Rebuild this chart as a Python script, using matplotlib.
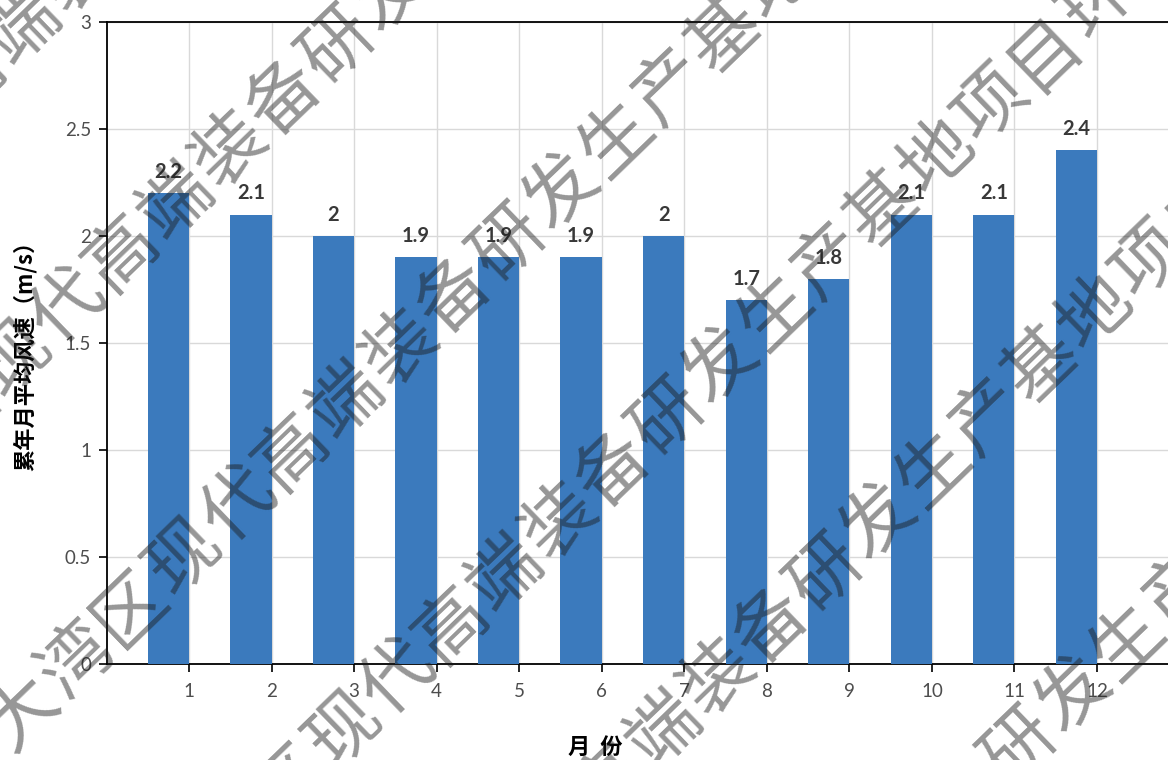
import numpy as np
import matplotlib
matplotlib.use("Agg")
import matplotlib.pyplot as plt

# monthly mean wind speed
months = np.arange(1, 13)
month_labels = [str(m) for m in months]
wind_speed = [2.2, 2.1, 2, 1.9, 1.9, 1.9, 2, 1.7, 1.8, 2.1, 2.1, 2.4]
value_labels = ["2.2", "2.1", "2", "1.9", "1.9", "1.9", "2", "1.7", "1.8", "2.1", "2.1", "2.4"]
y_ticks = [0, 0.5, 1, 1.5, 2, 2.5, 3]
y_tick_labels = ["0", "0.5", "1", "1.5", "2", "2.5", "3"]

watermark = "大湾区现代高端装备研发生产基地项目环"

W, H = 1168, 760
fig = plt.figure(figsize=(W / 100, H / 100), dpi=100)
fig.patch.set_facecolor("white")

# axes placed in pixels, runs a bit past the right edge like the original
ax = fig.add_axes([106.5 / W, (H - 664) / H, 1073 / W, 642 / H])

ax.bar(months - 0.25, wind_speed, width=0.5, color="#3b7abd", zorder=3)

for m, v, lab in zip(months, wind_speed, value_labels):
    ax.annotate(lab, (m - 0.25, v), xytext=(0, 8), textcoords="offset points",
                ha="center", va="bottom", fontsize=14.5, fontweight="bold",
                color="#383838", family=["Lato", "DejaVu Sans"], zorder=4)

ax.set_xlim(0, 13)
ax.set_ylim(0, 3)
ax.set_xticks(months)
ax.set_xticklabels(month_labels)
ax.set_yticks(y_ticks)
ax.set_yticklabels(y_tick_labels)

ax.grid(True, color="#d9d9d9", linewidth=1.0, zorder=0)
ax.set_axisbelow(True)

for s in ["left", "bottom", "top"]:
    ax.spines[s].set_color("black")
    ax.spines[s].set_linewidth(1.3)
ax.spines["right"].set_visible(False)

ax.tick_params(axis="both", direction="out", length=6, width=1.2, color="black",
               labelcolor="#4d4d4d", labelsize=13.5)
ax.tick_params(axis="x", pad=8)
ax.tick_params(axis="y", pad=5)
for t in ax.get_xticklabels() + ax.get_yticklabels():
    t.set_family(["Lato", "DejaVu Sans"])

fig.text(595 / W, 1 - 747 / H, "月  份", ha="center", va="center", fontsize=16,
         fontweight="bold", family=["Noto Sans CJK SC", "DejaVu Sans"])
fig.text(25 / W, 1 - 350 / H, "累年月平均风速（m/s）", ha="center", va="center",
         rotation=90, fontsize=16, fontweight="bold",
         family=["Noto Sans CJK SC", "DejaVu Sans"])

# diagonal watermark, one line per (char index, x px, y px) anchor
wm_angle = 44
wm_step = 75
wm_lines = [(6, 23, 27), (7, 230, 150), (0, 23, 713), (3, 344, 730),
            (6, 664, 730), (9, 1020, 747)]
dx = np.cos(np.radians(wm_angle)) * wm_step
dy = -np.sin(np.radians(wm_angle)) * wm_step
for idx, x0, y0 in wm_lines:
    for i, ch in enumerate(watermark):
        px = x0 + (i - idx) * dx
        py = y0 + (i - idx) * dy
        if -80 < px < W + 80 and -80 < py < H + 80:
            fig.text(px / W, 1 - py / H, ch, ha="center", va="center",
                     rotation=wm_angle, fontsize=52, color="#1a1a1a", alpha=0.46,
                     family=["Noto Sans CJK SC"], zorder=10)

fig.savefig("out.png", dpi=100)
